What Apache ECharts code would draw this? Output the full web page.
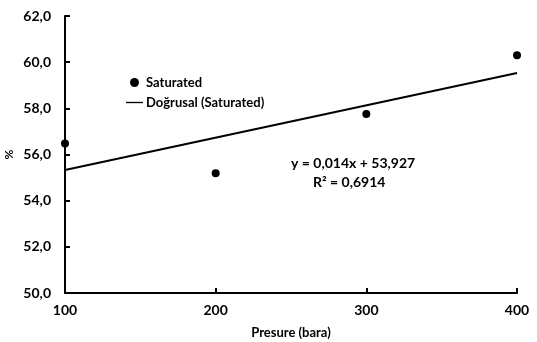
<!DOCTYPE html>
<html>
<head>
<meta charset="utf-8">
<script src="https://cdn.jsdelivr.net/npm/echarts@6/dist/echarts.min.js"></script>
<style>
  html, body { margin: 0; padding: 0; background: #fff; }
  #myChart { width: 537px; height: 342px; }
</style>
</head>
<body>
<div id="myChart"></div>
<script>
// veri
const pressure = [100, 200, 300, 400]
const saturated = [56.48, 55.19, 57.75, 60.30]
const trendX = [100, 400]
const trendY = [55.33, 59.53]
const xTicks = [100, 200, 300, 400]
const yTicks = [50, 52, 54, 56, 58, 60, 62]

const font = 'Lato, "Open Sans", sans-serif'

const myChart = echarts.init(document.getElementById('myChart'))
const option = {
  backgroundColor: '#fff',
  animation: false,
  grid: { left: 65, right: 20, top: 16, bottom: 49, containLabel: false, outerBoundsMode: 'none' },
  legend: {
    orient: 'vertical',
    left: 121,
    top: 71,
    itemGap: 7,
    itemWidth: 17,
    itemHeight: 9,
    textStyle: { fontFamily: font, fontWeight: 'bold', fontSize: 13, color: '#000', padding: [0, 0, 0, -2] },
    data: [
      { name: 'Saturated', icon: 'circle', itemStyle: { color: '#000', opacity: 1 } },
      { name: 'Doğrusal (Saturated)', icon: 'path://M0,0 L30,0 L30,2.4 L0,2.4 Z', itemStyle: { color: '#000', opacity: 1 } }
    ]
  },
  xAxis: {
    type: 'value',
    min: xTicks[0],
    max: xTicks[xTicks.length - 1],
    interval: 100,
    name: 'Presure (bara)',
    nameLocation: 'middle',
    nameGap: 33,
    nameMoveOverlap: false,
    nameTextStyle: { fontFamily: font, fontWeight: 'bold', fontSize: 13, color: '#000' },
    axisLine: { lineStyle: { color: '#000', width: 2, opacity: 1 } },
    axisTick: { inside: true, length: 5, lineStyle: { color: '#000', width: 2 } },
    axisLabel: { fontFamily: font, fontWeight: 'bold', fontSize: 14, color: '#000', margin: 10 },
    splitLine: { show: false }
  },
  yAxis: {
    type: 'value',
    min: yTicks[0],
    max: yTicks[yTicks.length - 1],
    interval: 2,
    name: '%',
    nameLocation: 'middle',
    nameGap: 50,
    nameRotate: 90,
    nameMoveOverlap: false,
    nameTextStyle: { fontFamily: font, fontWeight: 'bold', fontSize: 12, color: '#000' },
    axisLine: { show: true, lineStyle: { color: '#000', width: 2, opacity: 1 } },
    axisTick: { show: true, inside: true, length: 5, lineStyle: { color: '#000', width: 2 } },
    axisLabel: {
      fontFamily: font, fontWeight: 'bold', fontSize: 14, color: '#000', margin: 14,
      formatter: v => v.toFixed(1).replace('.', ',')
    },
    splitLine: { show: false }
  },
  series: [
    {
      name: 'Saturated',
      type: 'scatter',
      symbol: 'circle',
      symbolSize: 8,
      itemStyle: { color: '#000', opacity: 1 },
      data: pressure.map((x, i) => [x, saturated[i]]),
      z: 3
    },
    {
      name: 'Doğrusal (Saturated)',
      type: 'line',
      symbol: 'none',
      lineStyle: { color: '#000', width: 2, opacity: 1 },
      itemStyle: { color: '#000' },
      data: trendX.map((x, i) => [x, trendY[i]])
    }
  ],
  graphic: [
    {
      type: 'text', left: 291, top: 156,
      style: { text: 'y = 0,014x + 53,927', font: 'bold 14px ' + font, fill: '#000' }
    },
    {
      type: 'text', left: 313, top: 175,
      style: { text: 'R² = 0,6914', font: 'bold 14px ' + font, fill: '#000' }
    }
  ]
}
myChart.setOption(option)
window.addEventListener('resize', () => {
  myChart.resize()
})
</script>
</body>
</html>
